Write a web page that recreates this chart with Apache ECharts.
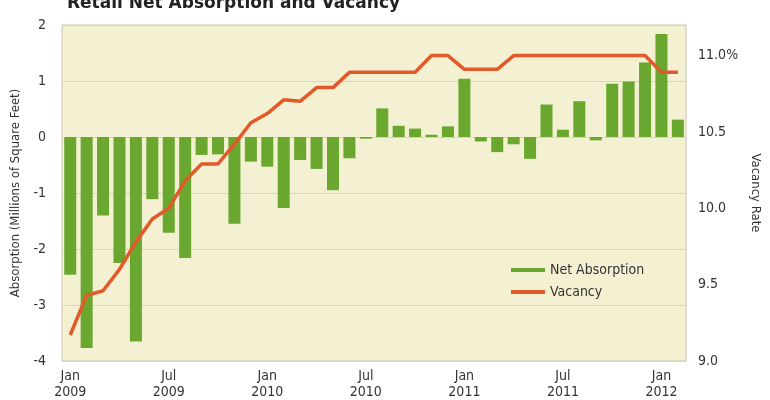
<!DOCTYPE html>
<html><head><meta charset="utf-8">
<script src="https://cdn.jsdelivr.net/npm/echarts@6/dist/echarts.min.js"></script>
<style>html,body{margin:0;padding:0;background:#fff}#c{width:770px;height:400px}</style>
</head><body><div id="c"></div>
<script>
const months = ['Jan','Feb','Mar','Apr','May','Jun','Jul','Aug','Sep','Oct','Nov','Dec'];
const categories = [];
for (let y = 2009; y <= 2012; y++) for (let m = 0; m < 12; m++) if (categories.length < 38) categories.push(months[m] + '\n' + y);
const absorption = [-2.46,-3.77,-1.40,-2.25,-3.65,-1.11,-1.71,-2.16,-0.32,-0.31,-1.55,-0.44,
  -0.53,-1.27,-0.41,-0.57,-0.95,-0.38,-0.03,0.51,0.20,0.15,0.04,0.19,
  1.04,-0.08,-0.27,-0.13,-0.39,0.58,0.13,0.64,-0.06,0.95,0.99,1.33,
  1.84,0.31];
const vacancy = [9.17,9.43,9.46,9.60,9.78,9.93,10.0,10.18,10.29,10.29,10.42,10.56,
  10.62,10.71,10.70,10.79,10.79,10.89,10.89,10.89,10.89,10.89,11.0,11.0,
  10.91,10.91,10.91,11.0,11.0,11.0,11.0,11.0,11.0,11.0,11.0,11.0,
  10.89,10.89];
const FONT = "'DejaVu Sans Condensed','Liberation Sans Narrow',sans-serif";
const chart = echarts.init(document.getElementById('c'));
chart.setOption({
  animation: false,
  textStyle: {fontFamily: FONT},
  title: {text: 'Retail Net Absorption and Vacancy', left: 62, top: -10,
    textStyle: {fontFamily: "'DejaVu Sans'", fontSize: 17, fontWeight: 'bold', color: '#222'}},
  legend: {left: 506, top: 258, orient: 'vertical', itemGap: 8, itemWidth: 34, itemHeight: 4,
    textStyle: {fontSize: 14, color: '#333', fontFamily: FONT},
    data: [{name: 'Net Absorption', icon: 'rect'}, {name: 'Vacancy', icon: 'rect'}]},
  grid: {left: 62, right: 74, top: 25, bottom: 38, show: true, backgroundColor: '#f4f0d2', borderColor: '#c9c6b4', borderWidth: 1},
  xAxis: {type: 'category', data: categories, boundaryGap: true,
    axisLine: {show: false}, axisTick: {show: false},
    axisLabel: {interval: 5, color: '#333', fontSize: 14, lineHeight: 16, margin: 7}},
  yAxis: [
    {type: 'value', min: -4, max: 2, interval: 1, position: 'left',
     name: 'Absorption (Millions of Square Feet)', nameLocation: 'middle', nameGap: 40,
     nameTextStyle: {fontSize: 13, color: '#333'},
     axisLine: {show: false}, axisTick: {show: false},
     axisLabel: {color: '#333', fontSize: 14, margin: 16},
     splitLine: {lineStyle: {color: '#d9d4bd', width: 1}}},
    {type: 'value', min: 9, max: 11.2, interval: 0.5, position: 'right',
     name: 'Vacancy Rate', nameLocation: 'middle', nameGap: 52, nameRotate: -90,
     nameTextStyle: {fontSize: 13, color: '#333'},
     axisLine: {show: false}, axisTick: {show: false}, splitLine: {show: false},
     axisLabel: {color: '#333', fontSize: 14, margin: 12, showMaxLabel: false,
       formatter: v => v === 11 ? '11.0%' : v.toFixed(1)}}
  ],
  series: [
    {name: 'Net Absorption', type: 'bar', data: absorption, barWidth: 12,
     itemStyle: {color: '#6aa72f'}},
    {name: 'Vacancy', type: 'line', yAxisIndex: 1, data: vacancy, symbol: 'none',
     lineStyle: {color: '#e2592a', width: 3.5}, itemStyle: {color: '#e2592a'}}
  ]
});
</script></body></html>
